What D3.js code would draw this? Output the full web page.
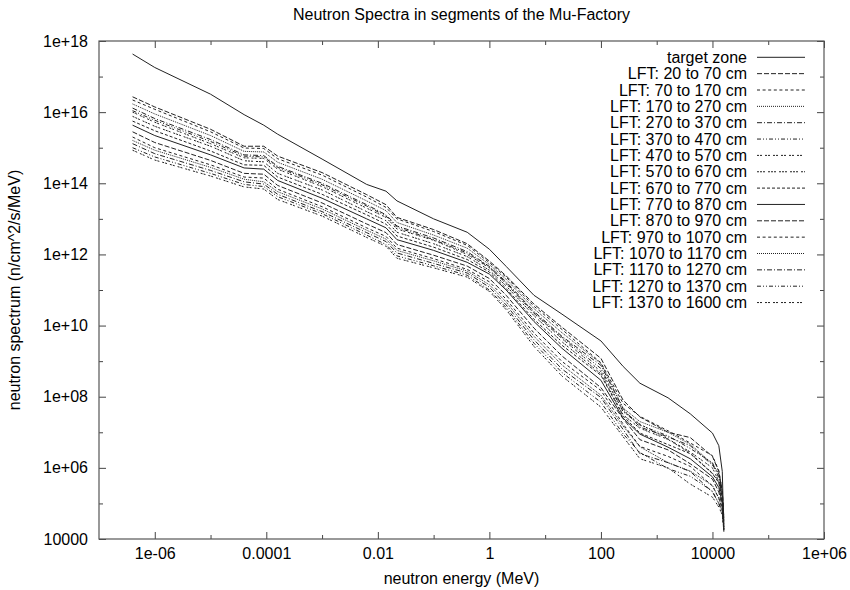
<!DOCTYPE html>
<html>
<head>
<meta charset="utf-8">
<script src="https://cdn.jsdelivr.net/npm/d3@7"></script>
<style>
  body { margin: 0; background: #fff; }
  text { font-family: "Liberation Sans", Arial, Helvetica, sans-serif; fill: #000; }
</style>
</head>
<body>
<div id="chart"></div>
<script>
// neutron energy grid (MeV), shared by every curve
var energy = [4e-7, 1e-6, 1e-5, 4e-5, 9e-5, 1.6e-4, 1e-3, 6.3e-3, 1.4e-2, 2.2e-2, 0.1, 0.4, 1, 2, 6.3, 20, 100, 250, 500, 1600, 4000, 1e4, 1.3e4, 1.5e4, 1.6e4];

// spectra (n/cm^2/s/MeV)
var targetZone = [4.3e17, 1.8e17, 3.2e16, 8.5e15, 4.3e15, 2.4e15, 4.8e14, 9.3e13, 6.0e13, 3.2e13, 1.0e13, 4.2e12, 1.4e12, 4.6e11, 7.1e10, 2.1e10, 3.7e9, 7.1e8, 2.4e8, 9.3e7, 3.3e7, 9.5e6, 4.2e6, 7.9e5, 1.6e4];
var lft20to70 = [2.7e16, 1.4e16, 3.3e15, 1.1e15, 1.1e15, 5.8e14, 2.0e14, 4.8e13, 2.5e13, 1.1e13, 5.0e12, 2.0e12, 6.5e11, 2.5e11, 4.0e10, 9.0e9, 1.2e9, 8.0e7, 2.7e7, 1.0e7, 7.1e6, 2.1e6, 7.9e5, 2.3e5, 4.0e4];
var lft70to170 = [2.2e16, 1.2e16, 2.8e15, 9.8e14, 9.5e14, 4.9e14, 1.7e14, 4.1e13, 2.1e13, 1.0e13, 4.4e12, 1.8e12, 5.9e11, 2.3e11, 3.5e10, 7.8e9, 9.0e8, 6.5e7, 2.8e7, 1.1e7, 5.0e6, 2.2e6, 8.3e5, 2.1e5, 3.8e4];
var lft170to270 = [1.7e16, 8.9e15, 2.2e15, 7.9e14, 7.6e14, 3.9e14, 1.3e14, 3.2e13, 1.7e13, 7.9e12, 3.5e12, 1.5e12, 5.2e11, 2.0e11, 3.0e10, 6.3e9, 8.6e8, 4.8e7, 2.0e7, 1.0e7, 4.6e6, 1.3e6, 6.9e5, 1.9e5, 3.5e4];
var lft270to370 = [1.3e16, 6.6e15, 1.7e15, 6.3e14, 6.0e14, 3.0e14, 1.0e14, 2.5e13, 1.3e13, 6.3e12, 2.9e12, 1.2e12, 4.6e11, 1.7e11, 2.5e10, 5.0e9, 7.6e8, 4.6e7, 1.4e7, 7.4e6, 4.2e6, 1.2e6, 6.6e5, 1.6e5, 3.3e4];
var lft370to470 = [1.1e16, 5.9e15, 1.5e15, 5.8e14, 5.5e14, 2.8e14, 9.1e13, 2.3e13, 1.2e13, 5.8e12, 2.6e12, 1.1e12, 4.4e11, 1.6e11, 2.3e10, 4.7e9, 6.2e8, 3.8e7, 1.6e7, 7.9e6, 3.5e6, 1.4e6, 5.2e5, 1.5e5, 3.2e4];
var lft470to570 = [1.0e16, 5.2e15, 1.3e15, 5.2e14, 5.0e14, 2.5e14, 8.1e13, 2.0e13, 1.1e13, 5.2e12, 2.5e12, 1.0e12, 4.2e11, 1.5e11, 2.2e10, 4.3e9, 5.1e8, 4.0e7, 1.7e7, 6.5e6, 2.8e6, 1.0e6, 4.2e5, 1.5e5, 3.1e4];
var lft570to670 = [7.6e15, 4.0e15, 1.1e15, 4.3e14, 4.0e14, 1.9e14, 6.5e13, 1.6e13, 8.9e12, 4.2e12, 2.0e12, 8.7e11, 3.6e11, 1.3e11, 1.9e10, 3.5e9, 4.4e8, 3.1e7, 1.3e7, 6.3e6, 2.6e6, 7.1e5, 4.1e5, 1.3e5, 2.9e4];
var lft670to770 = [5.6e15, 3.0e15, 8.1e14, 3.3e14, 3.2e14, 1.5e14, 4.9e13, 1.3e13, 7.1e12, 3.3e12, 1.6e12, 7.2e11, 3.2e11, 1.1e11, 1.5e10, 2.8e9, 4.0e8, 2.9e7, 9.5e6, 4.5e6, 2.5e6, 6.9e5, 3.8e5, 1.1e5, 2.7e4];
var lft770to870 = [4.3e15, 2.2e15, 6.3e14, 2.7e14, 2.5e14, 1.2e14, 3.8e13, 1.0e13, 5.6e12, 2.6e12, 1.3e12, 6.0e11, 2.8e11, 1.0e11, 1.3e10, 2.3e9, 2.9e8, 2.5e7, 8.9e6, 3.8e6, 1.8e6, 5.6e5, 2.8e5, 1.0e5, 2.5e4];
var lft870to970 = [2.8e15, 1.4e15, 4.4e14, 1.9e14, 1.8e14, 8.7e13, 2.8e13, 7.2e12, 4.1e12, 1.9e12, 9.5e11, 4.7e11, 2.1e11, 7.1e10, 8.5e9, 1.4e9, 1.8e8, 2.4e7, 6.2e6, 3.2e6, 1.3e6, 4.8e5, 2.1e5, 8.1e4, 2.2e4];
var lft970to1070 = [2.0e15, 1.0e15, 3.3e14, 1.5e14, 1.4e14, 6.8e13, 2.2e13, 5.6e12, 3.2e12, 1.5e12, 7.6e11, 3.8e11, 1.7e11, 5.5e10, 6.2e9, 9.8e8, 1.5e8, 1.7e7, 4.0e6, 2.1e6, 1.1e6, 3.1e5, 1.4e5, 7.1e4, 2.1e4];
var lft1070to1170 = [1.6e15, 8.5e14, 2.8e14, 1.3e14, 1.1e14, 5.8e13, 1.9e13, 4.8e12, 2.7e12, 1.3e12, 6.6e11, 3.4e11, 1.4e11, 4.6e10, 5.0e9, 7.8e8, 1.1e8, 1.5e7, 3.9e6, 1.4e6, 8.1e5, 3.2e5, 1.4e5, 6.5e4, 1.9e4];
var lft1170to1270 = [1.3e15, 6.8e14, 2.3e14, 1.1e14, 9.5e13, 4.9e13, 1.6e13, 4.1e12, 2.3e12, 1.1e12, 5.6e11, 3.0e11, 1.2e11, 3.8e10, 4.0e9, 6.0e8, 9.5e7, 1.2e7, 2.5e6, 1.4e6, 7.9e5, 2.1e5, 1.0e5, 5.9e4, 1.9e4];
var lft1270to1370 = [1.0e15, 5.5e14, 1.9e14, 9.3e13, 8.1e13, 4.2e13, 1.4e13, 3.5e12, 1.9e12, 9.1e11, 4.8e11, 2.6e11, 1.0e11, 3.2e10, 3.2e9, 4.8e8, 7.0e7, 9.0e6, 2.7e6, 9.5e5, 5.8e5, 2.2e5, 1.0e5, 5.4e4, 1.8e4];
var lft1370to1600 = [8.5e14, 4.5e14, 1.6e14, 7.9e13, 6.9e13, 3.5e13, 1.2e13, 3.0e12, 1.7e12, 7.8e11, 4.2e11, 2.3e11, 9.1e10, 2.8e10, 2.6e9, 3.8e8, 5.1e7, 7.5e6, 1.8e6, 1.0e6, 3.5e5, 1.5e5, 7.9e4, 4.8e4, 1.7e4];

var seriesNames = ["target zone", "LFT: 20 to 70 cm", "LFT: 70 to 170 cm", "LFT: 170 to 270 cm",
  "LFT: 270 to 370 cm", "LFT: 370 to 470 cm", "LFT: 470 to 570 cm", "LFT: 570 to 670 cm",
  "LFT: 670 to 770 cm", "LFT: 770 to 870 cm", "LFT: 870 to 970 cm", "LFT: 970 to 1070 cm",
  "LFT: 1070 to 1170 cm", "LFT: 1170 to 1270 cm", "LFT: 1270 to 1370 cm", "LFT: 1370 to 1600 cm"];
var seriesValues = [targetZone, lft20to70, lft70to170, lft170to270, lft270to370, lft370to470,
  lft470to570, lft570to670, lft670to770, lft770to870, lft870to970, lft970to1070,
  lft1070to1170, lft1170to1270, lft1270to1370, lft1370to1600];

// tick values and labels
var xTickValues = [1e-6, 1e-4, 1e-2, 1, 100, 1e4, 1e6];
var xTickLabels = ["1e-06", "0.0001", "0.01", "1", "100", "10000", "1e+06"];
var xMinorValues = [1e-5, 1e-3, 0.1, 10, 1000, 1e5];
var yTickValues = [1e4, 1e6, 1e8, 1e10, 1e12, 1e14, 1e16, 1e18];
var yTickLabels = ["10000", "1e+06", "1e+08", "1e+10", "1e+12", "1e+14", "1e+16", "1e+18"];
var yMinorValues = [1e5, 1e7, 1e9, 1e11, 1e13, 1e15, 1e17];

// gnuplot style line types (cycle of 9)
var dashStyles = ["none", "5,2", "3,2.6", "1,1", "5,2,1,2", "4,2,1,2,1,2", "2,1,2,3", "2,1,2,1,2,3", "3,2"];

var margin = {top: 41, right: 26, bottom: 51, left: 99},
    width = 850 - margin.left - margin.right,
    height = 590 - margin.top - margin.bottom;

var svg = d3.select("#chart")
  .append("svg")
  .attr("width", 850)
  .attr("height", 590)
  .append("g")
  .attr("transform", "translate(" + margin.left + "," + margin.top + ")");

var x = d3.scaleLog().domain([1e-7, 1e6]).range([0, width]);
var y = d3.scaleLog().domain([1e4, 1e18]).range([height, 0]);

function styleAxis(g) {
  g.select(".domain").remove();
  g.selectAll("line").attr("stroke", "#444");
  g.selectAll("text").style("font-size", "16px").attr("fill", "#000");
}

// major + minor ticks on all four sides (inward)
svg.append("g")
  .attr("transform", "translate(0," + height + ")")
  .call(d3.axisBottom(x).tickValues(xTickValues).tickSize(-7).tickPadding(9)
    .tickFormat(function(d, i) { return xTickLabels[i]; }))
  .call(styleAxis);
svg.append("g")
  .attr("transform", "translate(0," + height + ")")
  .call(d3.axisBottom(x).tickValues(xMinorValues).tickSize(-4).tickFormat(""))
  .call(styleAxis);
svg.append("g")
  .call(d3.axisTop(x).tickValues(xTickValues).tickSize(-7).tickFormat(""))
  .call(styleAxis);
svg.append("g")
  .call(d3.axisTop(x).tickValues(xMinorValues).tickSize(-4).tickFormat(""))
  .call(styleAxis);

svg.append("g")
  .call(d3.axisLeft(y).tickValues(yTickValues).tickSize(-7).tickPadding(11)
    .tickFormat(function(d, i) { return yTickLabels[i]; }))
  .call(styleAxis);
svg.append("g")
  .call(d3.axisLeft(y).tickValues(yMinorValues).tickSize(-4).tickFormat(""))
  .call(styleAxis);
svg.append("g")
  .attr("transform", "translate(" + width + ",0)")
  .call(d3.axisRight(y).tickValues(yTickValues).tickSize(-7).tickFormat(""))
  .call(styleAxis);
svg.append("g")
  .attr("transform", "translate(" + width + ",0)")
  .call(d3.axisRight(y).tickValues(yMinorValues).tickSize(-4).tickFormat(""))
  .call(styleAxis);

// border
svg.append("rect")
  .attr("width", width)
  .attr("height", height)
  .attr("fill", "none")
  .attr("stroke", "#555")
  .attr("stroke-width", 1.2);

// curves
var line = d3.line()
  .x(function(d) { return x(d[0]); })
  .y(function(d) { return y(d[1]); });

seriesValues.forEach(function(vals, i) {
  var pts = energy.map(function(e, j) { return [e, vals[j]]; });
  svg.append("path")
    .datum(pts)
    .attr("fill", "none")
    .attr("stroke", "#222")
    .attr("stroke-width", 1)
    .attr("stroke-dasharray", dashStyles[i % 9])
    .attr("d", line);
});

// legend
var legend = svg.append("g").attr("transform", "translate(" + (747 - margin.left) + "," + (57.3 - margin.top) + ")");
seriesNames.forEach(function(name, i) {
  var row = legend.append("g").attr("transform", "translate(0," + (i * 16.35) + ")");
  row.append("text")
    .attr("x", 0)
    .attr("y", 0)
    .attr("dy", "0.35em")
    .style("text-anchor", "end")
    .style("font-size", "16px")
    .text(name);
  row.append("line")
    .attr("x1", 10).attr("x2", 58)
    .attr("y1", 0).attr("y2", 0)
    .attr("stroke", "#222")
    .attr("stroke-width", 1)
    .attr("stroke-dasharray", dashStyles[i % 9]);
});

// title and axis labels
svg.append("text")
  .attr("x", width / 2)
  .attr("y", -21)
  .style("text-anchor", "middle")
  .style("font-size", "16px")
  .text("Neutron Spectra in segments of the Mu-Factory");

svg.append("text")
  .attr("x", width / 2)
  .attr("y", height + 45)
  .style("text-anchor", "middle")
  .style("font-size", "16px")
  .text("neutron energy (MeV)");

svg.append("text")
  .attr("transform", "rotate(-90)")
  .attr("x", -height / 2)
  .attr("y", -79)
  .style("text-anchor", "middle")
  .style("font-size", "16px")
  .text("neutron spectrum (n/cm^2/s/MeV)");
</script>
</body>
</html>
